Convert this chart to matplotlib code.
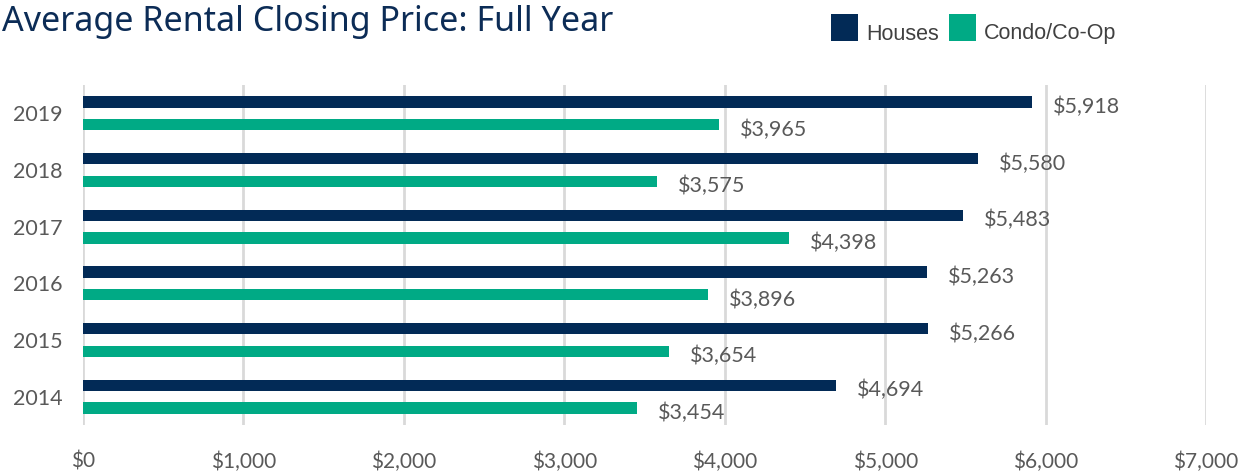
import matplotlib
matplotlib.use("Agg")
import matplotlib.pyplot as plt
import numpy as np
from matplotlib.patches import Rectangle

years = ["2014", "2015", "2016", "2017", "2018", "2019"]
houses = [4694, 5266, 5263, 5483, 5580, 5918]
condo = [3454, 3654, 3896, 4398, 3575, 3965]
xticks = [0, 1000, 2000, 3000, 4000, 5000, 6000, 7000]
xtick_labels = ["$0", "$1,000", "$2,000", "$3,000", "$4,000", "$5,000", "$6,000", "$7,000"]
series_names = ["Houses", "Condo/Co-Op"]

navy = "#022a56"
green = "#00aa85"
gray_text = "#595959"
W, H = 1259, 472

fig = plt.figure(figsize=(12.59, 4.72), dpi=100)
ax = fig.add_axes([83/W, 1-425/H, (1206-83)/W, (425-85)/H])

y = np.arange(len(years))
h = 0.2
ax.barh(y + 0.2, houses, height=h, color=navy, zorder=3)
ax.barh(y - 0.2, condo, height=h, color=green, zorder=3)

for yi, v in zip(y, houses):
    ax.annotate(f"${v:,}", (v, yi + 0.2), xytext=(21, -5), textcoords="offset pixels",
                ha="left", va="center", fontsize=15.5, color=gray_text, family="Lato")
for yi, v in zip(y, condo):
    ax.annotate(f"${v:,}", (v, yi - 0.2), xytext=(21, -5), textcoords="offset pixels",
                ha="left", va="center", fontsize=15.5, color=gray_text, family="Lato")

ax.set_xlim(0, 7000)
ax.set_ylim(-0.5, 5.5)
ax.set_xticks(xticks)
ax.set_xticklabels(xtick_labels, fontsize=15, color=gray_text, family="Lato")
ax.set_yticks(y)
ax.set_yticklabels(years, fontsize=15.5, color=gray_text, family="Lato")
ax.tick_params(axis="x", length=0, pad=19)
ax.tick_params(axis="y", length=0, pad=15)
for s in ax.spines.values():
    s.set_visible(False)
ax.grid(axis="x", color="#d9d9d9", linewidth=2, zorder=0)

fig.text(2/W, 1-22/H, "Average Rental Closing Price: Full Year", fontsize=24.5,
         color="#0c2c56", family="Noto Sans", ha="left", va="center")

# legend drawn manually
for x0, col, name in zip([831, 949], [navy, green], series_names):
    fig.patches.append(Rectangle((x0/W, 1-41/H), 27/W, 27/H, transform=fig.transFigure,
                                 facecolor=col, edgecolor="none"))
    fig.text((x0+35)/W, 1-34/H, name, fontsize=15.5, color="#404040",
             family="Liberation Sans", ha="left", va="center")

fig.savefig("out.png", dpi=100)
